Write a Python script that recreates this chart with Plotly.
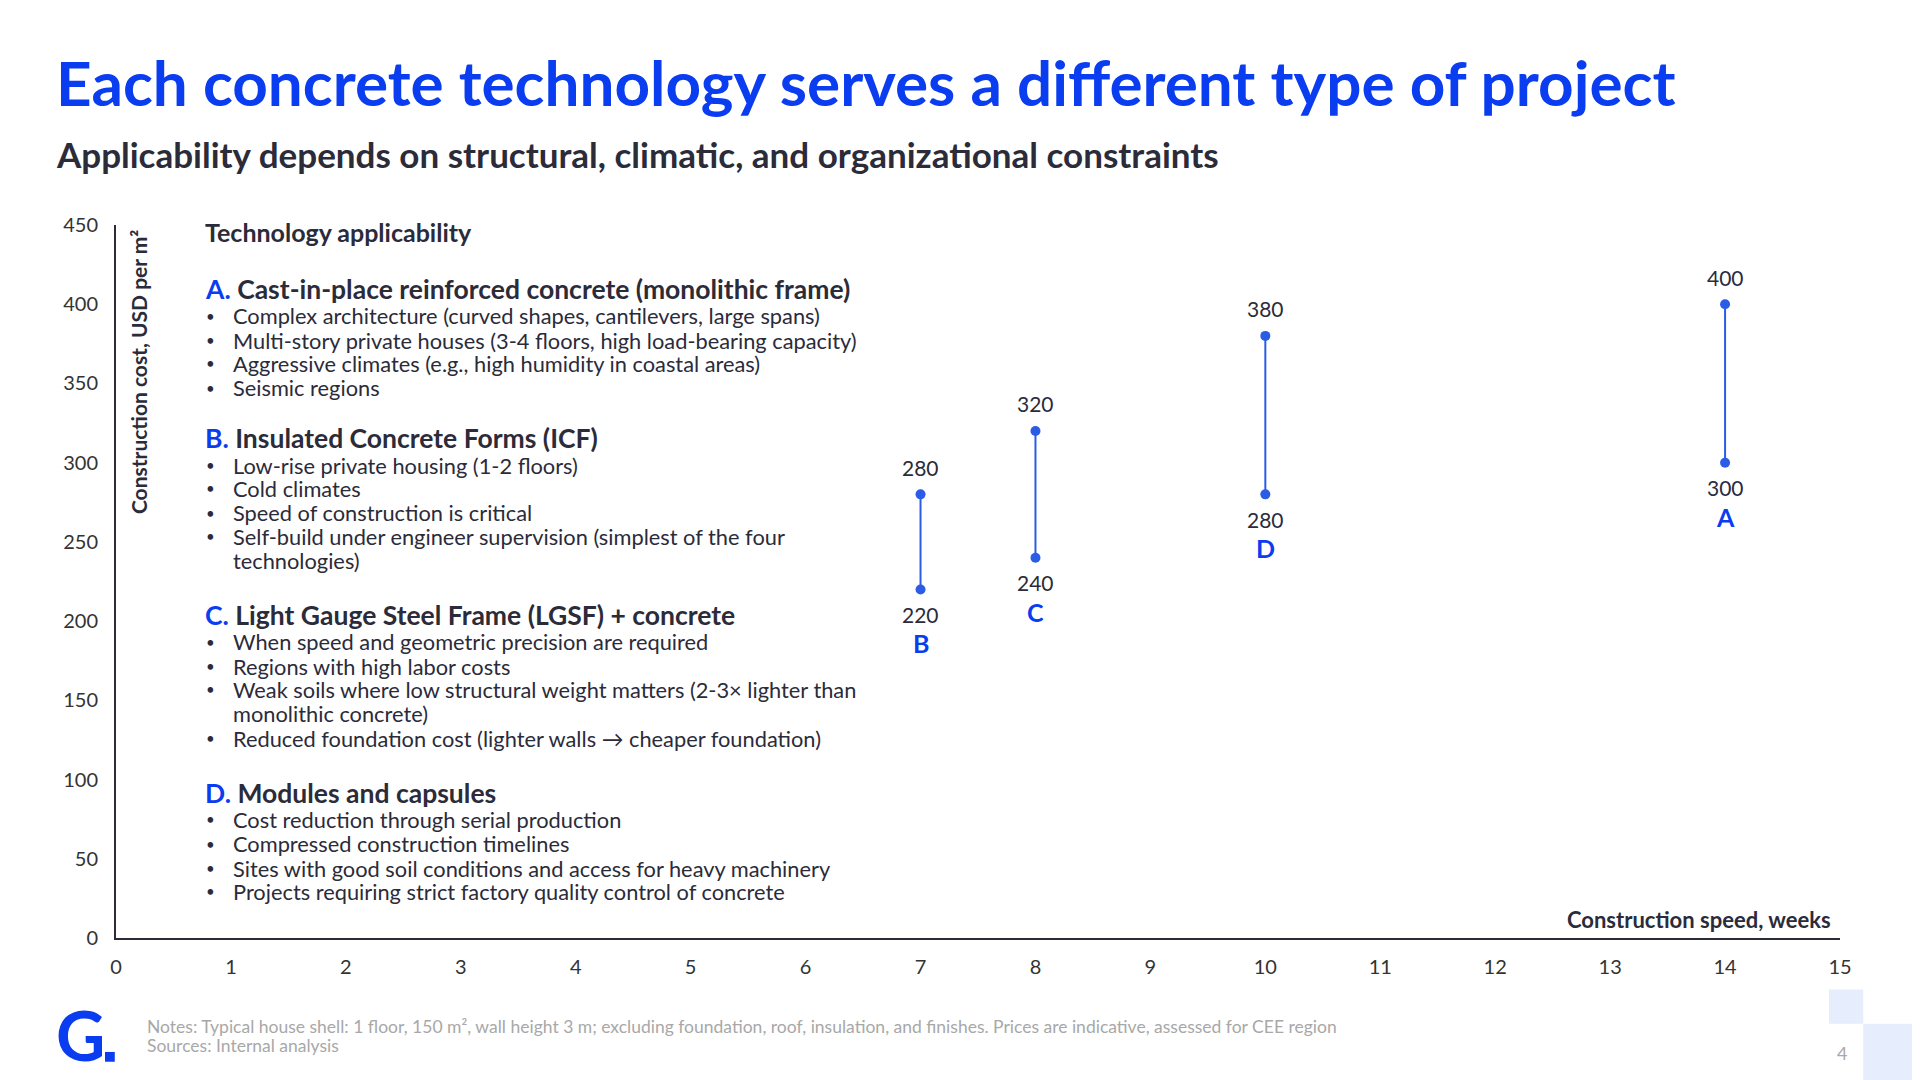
import plotly.graph_objects as go

weeks = [7, 8, 10, 14]
cost_low = [220, 240, 280, 300]
cost_high = [280, 320, 380, 400]
letters = ["B", "C", "D", "A"]
x_ticks = list(range(0, 16))
y_ticks = list(range(0, 451, 50))

S = 1920 / 1568
BLUE = "#0A3CF0"
DOT = "#2B5CE6"
DARK = "#2B2B3A"
FONT = "Lato"
OFF = 8
L, R, T, B = 95 * S, 1503 * S, 184 * S, 766 * S
W, H = 1920, 1080

def px(x): return (x * S - L) / (R - L)
def py(y): return (B - y * S) / (B - T)

fig = go.Figure()
for x, lo, hi in zip(weeks, cost_low, cost_high):
    fig.add_trace(go.Scatter(x=[x, x], y=[lo, hi], mode="lines+markers",
                             line=dict(color=DOT, width=2), marker=dict(size=10, color=DOT),
                             showlegend=False, hoverinfo="skip"))
ann = []
for x, lo, hi, l in zip(weeks, cost_low, cost_high, letters):
    ann.append(dict(x=x, y=hi, text=str(hi), showarrow=False, yshift=27, font=dict(size=21, color=DARK)))
    ann.append(dict(x=x, y=lo, text=str(lo), showarrow=False, yshift=-25, font=dict(size=21, color=DARK)))
    ann.append(dict(x=x, y=lo, text="<b>" + l + "</b>", showarrow=False, yshift=-54, font=dict(size=25, color=BLUE)))

def txt(x, y, t, size, color=DARK, xanchor="left", **kw):
    ann.append(dict(xref="paper", yref="paper", x=px(x), y=py(y), text=t, showarrow=False,
                    xanchor=xanchor, yanchor="middle", font=dict(size=size, color=color, family=FONT), **kw))

txt(44, 67, "<b>Each concrete technology serves a different type of project</b>", 62, BLUE)
txt(44, 126, "<b>Applicability depends on structural, climatic, and organizational constraints</b>", 35, DARK)
txt(166, 190, "<b>Technology applicability</b>", 25)

sections = [
    ("A.", "Cast-in-place reinforced concrete (monolithic frame)", 236,
     [(258, "Complex architecture (curved shapes, cantilevers, large spans)", True),
      (278, "Multi-story private houses (3-4 floors, high load-bearing capacity)", True),
      (297, "Aggressive climates (e.g., high humidity in coastal areas)", True),
      (317, "Seismic regions", True)]),
    ("B.", "Insulated Concrete Forms (ICF)", 358,
     [(380, "Low-rise private housing (1-2 floors)", True),
      (399, "Cold climates", True),
      (419, "Speed of construction is critical", True),
      (438, "Self-build under engineer supervision (simplest of the four", True),
      (458, "technologies)", False)]),
    ("C.", "Light Gauge Steel Frame (LGSF) + concrete", 502,
     [(524, "When speed and geometric precision are required", True),
      (544, "Regions with high labor costs", True),
      (563, "Weak soils where low structural weight matters (2-3× lighter than", True),
      (583, "monolithic concrete)", False),
      (603, "Reduced foundation cost (lighter walls → cheaper foundation)", True)]),
    ("D.", "Modules and capsules", 648,
     [(669, "Cost reduction through serial production", True),
      (689, "Compressed construction timelines", True),
      (709, "Sites with good soil conditions and access for heavy machinery", True),
      (728, "Projects requiring strict factory quality control of concrete", True)]),
]
for letter, head, y, bullets in sections:
    txt(166, y, "<b><span style='color:%s'>%s</span> %s</b>" % (BLUE, letter, head), 26.5)
    for by, t, bul in bullets:
        if bul:
            txt(167, by, "•", 15)
        txt(189, by, t, 21.8)

txt(1497, 751, "<b>Construction speed, weeks</b>", 22, xanchor="right")
ann.append(dict(xref="paper", yref="paper", x=px(113), y=py(304), text="<b>Construction cost, USD per m²</b>",
                showarrow=False, textangle=-90, xanchor="center", yanchor="middle",
                font=dict(size=21, color=DARK, family=FONT)))
txt(119, 838, "Notes: Typical house shell: 1 floor, 150 m², wall height 3 m; excluding foundation, roof, insulation, and finishes. Prices are indicative, assessed for CEE region", 17.5, "#A8A8A8")
txt(119, 854, "Sources: Internal analysis", 17.5, "#A8A8A8")
txt(1505, 860, "4", 18, "#A8A8A8", xanchor="center")
txt(66, 845, "<b>G</b>", 68, BLUE, xanchor="center")

shapes = [
    dict(type="rect", xref="paper", yref="paper", x0=px(1494), x1=px(1522), y0=py(836), y1=py(808),
         fillcolor="#E6EDFD", line=dict(width=0), layer="below"),
    dict(type="rect", xref="paper", yref="paper", x0=px(1522), x1=px(1580), y0=py(890), y1=py(836),
         fillcolor="#E6EDFD", line=dict(width=0), layer="below"),
    dict(type="rect", xref="paper", yref="paper", x0=px(86), x1=px(94), y0=py(867), y1=py(859),
         fillcolor=BLUE, line=dict(width=0)),
]

fig.update_layout(
    width=W, height=H, plot_bgcolor="white", paper_bgcolor="white",
    margin=dict(l=L - OFF, r=W - R + OFF, t=T - OFF, b=H - B + OFF, autoexpand=False),
    font=dict(family=FONT, color=DARK),
    xaxis=dict(range=[0, 15], tickvals=x_ticks, showgrid=False, zeroline=False, showline=True,
               linecolor=DARK, linewidth=2, ticks="", ticklabelstandoff=10, tickfont=dict(size=20, color="#333")),
    yaxis=dict(range=[0, 450], tickvals=y_ticks, showgrid=False, zeroline=False, showline=True,
               linecolor=DARK, linewidth=2, ticks="", ticklabelstandoff=12, tickfont=dict(size=20, color="#333")),
    annotations=ann, shapes=shapes,
)
fig.write_html("out.html")
